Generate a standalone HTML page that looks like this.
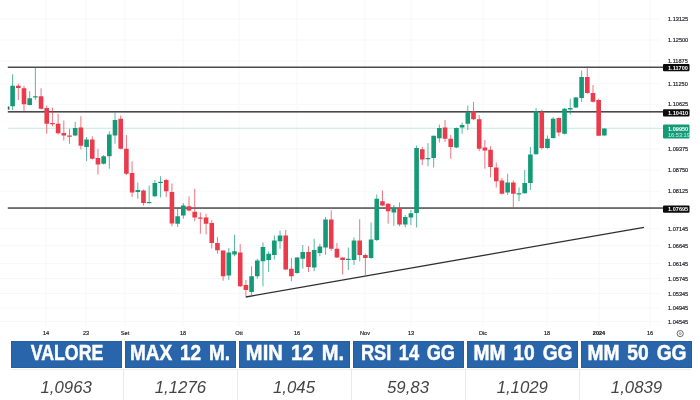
<!DOCTYPE html>
<html lang="it">
<head>
<meta charset="utf-8">
<title>EUR/USD</title>
<style>
html,body{margin:0;padding:0;background:#fff;}
body{width:700px;height:400px;overflow:hidden;position:relative;filter:blur(0.4px);font-family:"Liberation Sans",sans-serif;}
#chart{position:absolute;left:0;top:0;width:700px;height:340px;}
#chart svg{display:block;}
.ax{font-family:"Liberation Sans",sans-serif;font-size:5.6px;fill:#1e2026;stroke:#1e2026;stroke-width:0.18px;}
.axb{font-weight:bold;fill:#111;stroke:#111;}
.lb{font-family:"Liberation Sans",sans-serif;font-size:5.6px;fill:#fff;font-weight:bold;}
.hd{position:absolute;top:340.5px;height:27.5px;background:#2965ab;box-shadow:inset 0 0 0 0.6px #24589a;color:#fff;font-weight:bold;font-size:22.3px;line-height:27.5px;white-space:nowrap;overflow:hidden;}
.hd span{position:absolute;top:-1.3px;display:block;transform-origin:50% 50%;word-spacing:3px;-webkit-text-stroke:0.5px #fff;}
.vl{position:absolute;top:371px;height:29px;color:#444;font-style:italic;font-size:16.8px;line-height:33px;text-align:center;white-space:nowrap;}
.vsep{position:absolute;top:369px;width:1px;height:31px;background:#e9e9e9;}
.hline{position:absolute;left:10px;top:369px;width:681px;height:1px;background:#f0f0f0;}
</style>
</head>
<body>
<div id="chart">
<svg width="700" height="340" viewBox="0 0 700 340">
<g><rect x="0" y="18.5" width="660" height="1" fill="#f7f8fa"/>
<rect x="0" y="39.5" width="660" height="1" fill="#f7f8fa"/>
<rect x="0" y="60.5" width="660" height="1" fill="#f7f8fa"/>
<rect x="0" y="82.9" width="660" height="1" fill="#f7f8fa"/>
<rect x="0" y="103.8" width="660" height="1" fill="#f7f8fa"/>
<rect x="0" y="148.5" width="660" height="1" fill="#f7f8fa"/>
<rect x="0" y="169.5" width="660" height="1" fill="#f7f8fa"/>
<rect x="0" y="190.8" width="660" height="1" fill="#f7f8fa"/>
<rect x="0" y="228.2" width="660" height="1" fill="#f7f8fa"/>
<rect x="0" y="245.2" width="660" height="1" fill="#f7f8fa"/>
<rect x="0" y="263.1" width="660" height="1" fill="#f7f8fa"/>
<rect x="0" y="278.0" width="660" height="1" fill="#f7f8fa"/>
<rect x="0" y="292.9" width="660" height="1" fill="#f7f8fa"/>
<rect x="0" y="307.4" width="660" height="1" fill="#f7f8fa"/>
<rect x="0" y="321.0" width="660" height="1" fill="#f7f8fa"/>
<rect x="45.5" y="0" width="1" height="326" fill="#f7f8fa"/>
<rect x="85.5" y="0" width="1" height="326" fill="#f7f8fa"/>
<rect x="124.5" y="0" width="1" height="326" fill="#f7f8fa"/>
<rect x="182.5" y="0" width="1" height="326" fill="#f7f8fa"/>
<rect x="238.5" y="0" width="1" height="326" fill="#f7f8fa"/>
<rect x="296.5" y="0" width="1" height="326" fill="#f7f8fa"/>
<rect x="364.5" y="0" width="1" height="326" fill="#f7f8fa"/>
<rect x="410.5" y="0" width="1" height="326" fill="#f7f8fa"/>
<rect x="482.5" y="0" width="1" height="326" fill="#f7f8fa"/>
<rect x="546.5" y="0" width="1" height="326" fill="#f7f8fa"/>
<rect x="598.5" y="0" width="1" height="326" fill="#f7f8fa"/>
<rect x="649.5" y="0" width="1" height="326" fill="#f7f8fa"/></g>
<rect x="7.8" y="127.8" width="655" height="0.8" fill="#b4e4d7"/>
<g>
<rect x="7.8" y="66.5" width="655.5" height="1.5" fill="#4a4a4a"/>
<rect x="7.8" y="111" width="655.5" height="1.6" fill="#4a4a4a"/>
<rect x="7.8" y="207.3" width="655.5" height="1.5" fill="#4a4a4a"/>
<line x1="245.75" y1="297" x2="644" y2="227.3" stroke="#2f2f2f" stroke-width="1.3"/>
</g>
<g><rect x="7.8" y="106.5" width="1.6" height="3.2" fill="#1d6b55"/>
<rect x="12.10" y="74.25" width="1" height="35.75" fill="#149a76" opacity="0.7"/>
<rect x="10.30" y="85.75" width="4.6" height="20.50" fill="#149a76"/>
<rect x="17.79" y="83.75" width="1" height="16.25" fill="#ea3a4c" opacity="0.7"/>
<rect x="15.99" y="85.75" width="4.6" height="2.25" fill="#ea3a4c"/>
<rect x="23.48" y="85.75" width="1" height="25.50" fill="#ea3a4c" opacity="0.7"/>
<rect x="21.68" y="88.25" width="4.6" height="16.00" fill="#ea3a4c"/>
<rect x="29.17" y="91.25" width="1" height="14.25" fill="#149a76" opacity="0.7"/>
<rect x="27.37" y="98.25" width="4.6" height="6.75" fill="#149a76"/>
<rect x="34.86" y="67.50" width="1" height="32.50" fill="#149a76" opacity="0.7"/>
<rect x="33.06" y="96.25" width="4.6" height="1.25" fill="#149a76"/>
<rect x="40.55" y="88.25" width="1" height="21.25" fill="#ea3a4c" opacity="0.7"/>
<rect x="38.75" y="96.25" width="4.6" height="12.50" fill="#ea3a4c"/>
<rect x="46.24" y="105.50" width="1" height="28.25" fill="#ea3a4c" opacity="0.7"/>
<rect x="44.44" y="108.00" width="4.6" height="15.75" fill="#ea3a4c"/>
<rect x="51.93" y="107.50" width="1" height="18.75" fill="#ea3a4c" opacity="0.7"/>
<rect x="50.13" y="123.00" width="4.6" height="1.25" fill="#ea3a4c"/>
<rect x="57.62" y="113.75" width="1" height="20.75" fill="#ea3a4c" opacity="0.7"/>
<rect x="55.82" y="123.75" width="4.6" height="9.50" fill="#ea3a4c"/>
<rect x="63.31" y="120.50" width="1" height="20.00" fill="#ea3a4c" opacity="0.7"/>
<rect x="61.51" y="133.00" width="4.6" height="2.50" fill="#ea3a4c"/>
<rect x="69.00" y="128.75" width="1" height="15.00" fill="#ea3a4c" opacity="0.7"/>
<rect x="67.20" y="135.50" width="4.6" height="1.25" fill="#ea3a4c"/>
<rect x="74.69" y="121.75" width="1" height="14.50" fill="#149a76" opacity="0.7"/>
<rect x="72.89" y="128.00" width="4.6" height="7.50" fill="#149a76"/>
<rect x="80.38" y="116.25" width="1" height="33.25" fill="#ea3a4c" opacity="0.7"/>
<rect x="78.58" y="127.50" width="4.6" height="18.25" fill="#ea3a4c"/>
<rect x="86.07" y="137.00" width="1" height="24.25" fill="#149a76" opacity="0.7"/>
<rect x="84.27" y="139.50" width="4.6" height="7.50" fill="#149a76"/>
<rect x="91.76" y="136.25" width="1" height="23.25" fill="#ea3a4c" opacity="0.7"/>
<rect x="89.96" y="139.50" width="4.6" height="19.25" fill="#ea3a4c"/>
<rect x="97.45" y="148.75" width="1" height="25.75" fill="#ea3a4c" opacity="0.7"/>
<rect x="95.65" y="158.00" width="4.6" height="6.50" fill="#ea3a4c"/>
<rect x="103.14" y="155.00" width="1" height="9.50" fill="#149a76" opacity="0.7"/>
<rect x="101.34" y="156.25" width="4.6" height="7.50" fill="#149a76"/>
<rect x="108.83" y="131.25" width="1" height="37.50" fill="#149a76" opacity="0.7"/>
<rect x="107.03" y="134.50" width="4.6" height="21.75" fill="#149a76"/>
<rect x="114.52" y="112.50" width="1" height="31.25" fill="#149a76" opacity="0.7"/>
<rect x="112.72" y="120.00" width="4.6" height="15.50" fill="#149a76"/>
<rect x="120.21" y="115.50" width="1" height="34.00" fill="#ea3a4c" opacity="0.7"/>
<rect x="118.41" y="118.75" width="4.6" height="30.00" fill="#ea3a4c"/>
<rect x="125.90" y="135.00" width="1" height="40.00" fill="#ea3a4c" opacity="0.7"/>
<rect x="124.10" y="148.75" width="4.6" height="25.00" fill="#ea3a4c"/>
<rect x="131.59" y="161.25" width="1" height="35.75" fill="#ea3a4c" opacity="0.7"/>
<rect x="129.79" y="173.00" width="4.6" height="19.50" fill="#ea3a4c"/>
<rect x="137.28" y="182.50" width="1" height="16.25" fill="#149a76" opacity="0.7"/>
<rect x="135.48" y="190.00" width="4.6" height="2.00" fill="#149a76"/>
<rect x="142.97" y="189.50" width="1" height="16.00" fill="#ea3a4c" opacity="0.7"/>
<rect x="141.17" y="190.50" width="4.6" height="12.50" fill="#ea3a4c"/>
<rect x="148.66" y="185.50" width="1" height="17.75" fill="#149a76" opacity="0.7"/>
<rect x="146.86" y="202.00" width="4.6" height="1.20" fill="#149a76"/>
<rect x="154.35" y="180.00" width="1" height="17.00" fill="#149a76" opacity="0.7"/>
<rect x="152.55" y="183.00" width="4.6" height="13.25" fill="#149a76"/>
<rect x="160.04" y="176.25" width="1" height="21.25" fill="#149a76" opacity="0.7"/>
<rect x="158.24" y="181.75" width="4.6" height="1.25" fill="#149a76"/>
<rect x="165.73" y="178.75" width="1" height="18.25" fill="#ea3a4c" opacity="0.7"/>
<rect x="163.93" y="180.00" width="4.6" height="11.25" fill="#ea3a4c"/>
<rect x="171.42" y="183.50" width="1" height="42.75" fill="#ea3a4c" opacity="0.7"/>
<rect x="169.62" y="192.00" width="4.6" height="31.50" fill="#ea3a4c"/>
<rect x="177.11" y="207.50" width="1" height="19.50" fill="#149a76" opacity="0.7"/>
<rect x="175.31" y="216.25" width="4.6" height="7.50" fill="#149a76"/>
<rect x="182.80" y="203.00" width="1" height="15.75" fill="#149a76" opacity="0.7"/>
<rect x="181.00" y="205.50" width="4.6" height="10.00" fill="#149a76"/>
<rect x="188.49" y="196.25" width="1" height="15.00" fill="#ea3a4c" opacity="0.7"/>
<rect x="186.69" y="206.25" width="4.6" height="4.25" fill="#ea3a4c"/>
<rect x="194.18" y="188.75" width="1" height="32.50" fill="#ea3a4c" opacity="0.7"/>
<rect x="192.38" y="211.75" width="4.6" height="5.75" fill="#ea3a4c"/>
<rect x="199.87" y="212.50" width="1" height="21.25" fill="#ea3a4c" opacity="0.7"/>
<rect x="198.07" y="217.50" width="4.6" height="1.20" fill="#ea3a4c"/>
<rect x="205.56" y="213.75" width="1" height="20.75" fill="#ea3a4c" opacity="0.7"/>
<rect x="203.76" y="217.50" width="4.6" height="6.25" fill="#ea3a4c"/>
<rect x="211.25" y="220.00" width="1" height="28.50" fill="#ea3a4c" opacity="0.7"/>
<rect x="209.45" y="223.00" width="4.6" height="20.00" fill="#ea3a4c"/>
<rect x="216.94" y="237.00" width="1" height="16.75" fill="#ea3a4c" opacity="0.7"/>
<rect x="215.14" y="243.00" width="4.6" height="7.25" fill="#ea3a4c"/>
<rect x="222.63" y="250.50" width="1" height="30.25" fill="#ea3a4c" opacity="0.7"/>
<rect x="220.83" y="250.50" width="4.6" height="25.75" fill="#ea3a4c"/>
<rect x="228.32" y="248.00" width="1" height="32.00" fill="#149a76" opacity="0.7"/>
<rect x="226.52" y="252.50" width="4.6" height="23.00" fill="#149a76"/>
<rect x="234.01" y="234.75" width="1" height="21.50" fill="#149a76" opacity="0.7"/>
<rect x="232.21" y="251.25" width="4.6" height="3.25" fill="#149a76"/>
<rect x="239.70" y="244.25" width="1" height="42.75" fill="#ea3a4c" opacity="0.7"/>
<rect x="237.90" y="252.50" width="4.6" height="33.75" fill="#ea3a4c"/>
<rect x="245.39" y="280.00" width="1" height="16.25" fill="#ea3a4c" opacity="0.7"/>
<rect x="243.59" y="285.00" width="4.6" height="5.00" fill="#ea3a4c"/>
<rect x="251.08" y="266.25" width="1" height="28.75" fill="#149a76" opacity="0.7"/>
<rect x="249.28" y="276.25" width="4.6" height="15.75" fill="#149a76"/>
<rect x="256.77" y="258.75" width="1" height="20.00" fill="#149a76" opacity="0.7"/>
<rect x="254.97" y="260.50" width="4.6" height="15.75" fill="#149a76"/>
<rect x="262.46" y="242.50" width="1" height="43.75" fill="#149a76" opacity="0.7"/>
<rect x="260.66" y="247.00" width="4.6" height="14.25" fill="#149a76"/>
<rect x="268.15" y="251.25" width="1" height="20.75" fill="#149a76" opacity="0.7"/>
<rect x="266.35" y="253.75" width="4.6" height="6.25" fill="#149a76"/>
<rect x="273.84" y="235.50" width="1" height="24.00" fill="#149a76" opacity="0.7"/>
<rect x="272.04" y="240.50" width="4.6" height="14.50" fill="#149a76"/>
<rect x="279.53" y="230.50" width="1" height="18.25" fill="#149a76" opacity="0.7"/>
<rect x="277.73" y="235.50" width="4.6" height="5.75" fill="#149a76"/>
<rect x="285.22" y="230.00" width="1" height="40.00" fill="#ea3a4c" opacity="0.7"/>
<rect x="283.42" y="235.50" width="4.6" height="34.00" fill="#ea3a4c"/>
<rect x="290.91" y="258.00" width="1" height="23.25" fill="#ea3a4c" opacity="0.7"/>
<rect x="289.11" y="268.75" width="4.6" height="7.50" fill="#ea3a4c"/>
<rect x="296.60" y="257.00" width="1" height="16.75" fill="#149a76" opacity="0.7"/>
<rect x="294.80" y="257.50" width="4.6" height="15.50" fill="#149a76"/>
<rect x="302.29" y="245.00" width="1" height="23.75" fill="#149a76" opacity="0.7"/>
<rect x="300.49" y="252.00" width="4.6" height="6.75" fill="#149a76"/>
<rect x="307.98" y="246.25" width="1" height="25.75" fill="#ea3a4c" opacity="0.7"/>
<rect x="306.18" y="252.00" width="4.6" height="15.00" fill="#ea3a4c"/>
<rect x="313.67" y="238.75" width="1" height="32.50" fill="#149a76" opacity="0.7"/>
<rect x="311.87" y="250.00" width="4.6" height="17.50" fill="#149a76"/>
<rect x="319.36" y="243.75" width="1" height="12.50" fill="#149a76" opacity="0.7"/>
<rect x="317.56" y="246.50" width="4.6" height="6.50" fill="#149a76"/>
<rect x="325.05" y="217.00" width="1" height="37.75" fill="#149a76" opacity="0.7"/>
<rect x="323.25" y="219.50" width="4.6" height="28.00" fill="#149a76"/>
<rect x="330.74" y="210.25" width="1" height="40.75" fill="#ea3a4c" opacity="0.7"/>
<rect x="328.94" y="219.50" width="4.6" height="29.25" fill="#ea3a4c"/>
<rect x="336.43" y="243.00" width="1" height="15.00" fill="#ea3a4c" opacity="0.7"/>
<rect x="334.63" y="248.75" width="4.6" height="8.75" fill="#ea3a4c"/>
<rect x="342.12" y="257.50" width="1" height="17.00" fill="#ea3a4c" opacity="0.7"/>
<rect x="340.32" y="257.50" width="4.6" height="2.50" fill="#ea3a4c"/>
<rect x="347.81" y="247.50" width="1" height="22.50" fill="#149a76" opacity="0.7"/>
<rect x="346.01" y="258.75" width="4.6" height="1.25" fill="#149a76"/>
<rect x="353.50" y="237.50" width="1" height="27.50" fill="#149a76" opacity="0.7"/>
<rect x="351.70" y="240.50" width="4.6" height="19.50" fill="#149a76"/>
<rect x="359.19" y="219.25" width="1" height="42.00" fill="#ea3a4c" opacity="0.7"/>
<rect x="357.39" y="240.50" width="4.6" height="14.50" fill="#ea3a4c"/>
<rect x="364.88" y="253.75" width="1" height="21.25" fill="#ea3a4c" opacity="0.7"/>
<rect x="363.08" y="255.00" width="4.6" height="3.00" fill="#ea3a4c"/>
<rect x="370.57" y="222.50" width="1" height="36.25" fill="#149a76" opacity="0.7"/>
<rect x="368.77" y="239.50" width="4.6" height="18.50" fill="#149a76"/>
<rect x="376.26" y="194.50" width="1" height="46.75" fill="#149a76" opacity="0.7"/>
<rect x="374.46" y="198.75" width="4.6" height="41.25" fill="#149a76"/>
<rect x="381.95" y="190.50" width="1" height="15.75" fill="#ea3a4c" opacity="0.7"/>
<rect x="380.15" y="201.25" width="4.6" height="4.25" fill="#ea3a4c"/>
<rect x="387.64" y="203.00" width="1" height="20.75" fill="#ea3a4c" opacity="0.7"/>
<rect x="385.84" y="203.75" width="4.6" height="7.50" fill="#ea3a4c"/>
<rect x="393.33" y="205.00" width="1" height="20.75" fill="#149a76" opacity="0.7"/>
<rect x="391.53" y="208.25" width="4.6" height="4.25" fill="#149a76"/>
<rect x="399.02" y="202.50" width="1" height="23.75" fill="#ea3a4c" opacity="0.7"/>
<rect x="397.22" y="208.00" width="4.6" height="16.50" fill="#ea3a4c"/>
<rect x="404.71" y="215.00" width="1" height="12.50" fill="#149a76" opacity="0.7"/>
<rect x="402.91" y="217.00" width="4.6" height="7.50" fill="#149a76"/>
<rect x="410.40" y="210.00" width="1" height="15.00" fill="#149a76" opacity="0.7"/>
<rect x="408.60" y="213.25" width="4.6" height="4.25" fill="#149a76"/>
<rect x="416.09" y="145.50" width="1" height="82.00" fill="#149a76" opacity="0.7"/>
<rect x="414.29" y="148.00" width="4.6" height="65.00" fill="#149a76"/>
<rect x="421.78" y="147.00" width="1" height="18.00" fill="#ea3a4c" opacity="0.7"/>
<rect x="419.98" y="149.25" width="4.6" height="10.25" fill="#ea3a4c"/>
<rect x="427.47" y="143.25" width="1" height="23.00" fill="#149a76" opacity="0.7"/>
<rect x="425.67" y="158.00" width="4.6" height="1.25" fill="#149a76"/>
<rect x="433.16" y="135.75" width="1" height="31.75" fill="#149a76" opacity="0.7"/>
<rect x="431.36" y="135.75" width="4.6" height="22.25" fill="#149a76"/>
<rect x="438.85" y="124.50" width="1" height="18.00" fill="#149a76" opacity="0.7"/>
<rect x="437.05" y="128.00" width="4.6" height="10.25" fill="#149a76"/>
<rect x="444.54" y="120.00" width="1" height="22.00" fill="#ea3a4c" opacity="0.7"/>
<rect x="442.74" y="127.50" width="4.6" height="11.25" fill="#ea3a4c"/>
<rect x="450.23" y="135.00" width="1" height="23.75" fill="#ea3a4c" opacity="0.7"/>
<rect x="448.43" y="138.75" width="4.6" height="8.25" fill="#ea3a4c"/>
<rect x="455.92" y="127.50" width="1" height="20.50" fill="#149a76" opacity="0.7"/>
<rect x="454.12" y="128.00" width="4.6" height="19.50" fill="#149a76"/>
<rect x="461.61" y="122.50" width="1" height="11.25" fill="#149a76" opacity="0.7"/>
<rect x="459.81" y="125.00" width="4.6" height="2.50" fill="#149a76"/>
<rect x="467.30" y="105.50" width="1" height="24.50" fill="#149a76" opacity="0.7"/>
<rect x="465.50" y="111.75" width="4.6" height="12.00" fill="#149a76"/>
<rect x="472.99" y="102.00" width="1" height="18.00" fill="#ea3a4c" opacity="0.7"/>
<rect x="471.19" y="111.25" width="4.6" height="8.00" fill="#ea3a4c"/>
<rect x="478.68" y="115.00" width="1" height="36.25" fill="#ea3a4c" opacity="0.7"/>
<rect x="476.88" y="119.25" width="4.6" height="29.50" fill="#ea3a4c"/>
<rect x="484.37" y="140.00" width="1" height="28.75" fill="#ea3a4c" opacity="0.7"/>
<rect x="482.57" y="147.50" width="4.6" height="3.00" fill="#ea3a4c"/>
<rect x="490.06" y="146.25" width="1" height="31.25" fill="#ea3a4c" opacity="0.7"/>
<rect x="488.26" y="149.75" width="4.6" height="17.25" fill="#ea3a4c"/>
<rect x="495.75" y="162.50" width="1" height="25.00" fill="#ea3a4c" opacity="0.7"/>
<rect x="493.95" y="167.50" width="4.6" height="13.75" fill="#ea3a4c"/>
<rect x="501.44" y="178.00" width="1" height="16.50" fill="#ea3a4c" opacity="0.7"/>
<rect x="499.64" y="180.50" width="4.6" height="13.25" fill="#ea3a4c"/>
<rect x="507.13" y="173.75" width="1" height="21.25" fill="#149a76" opacity="0.7"/>
<rect x="505.33" y="182.50" width="4.6" height="10.00" fill="#149a76"/>
<rect x="512.82" y="180.50" width="1" height="27.50" fill="#ea3a4c" opacity="0.7"/>
<rect x="511.02" y="182.50" width="4.6" height="11.25" fill="#ea3a4c"/>
<rect x="518.51" y="187.50" width="1" height="13.75" fill="#149a76" opacity="0.7"/>
<rect x="516.71" y="193.25" width="4.6" height="1.25" fill="#149a76"/>
<rect x="524.20" y="170.00" width="1" height="23.75" fill="#149a76" opacity="0.7"/>
<rect x="522.40" y="183.00" width="4.6" height="10.25" fill="#149a76"/>
<rect x="529.89" y="147.00" width="1" height="43.00" fill="#149a76" opacity="0.7"/>
<rect x="528.09" y="154.50" width="4.6" height="28.50" fill="#149a76"/>
<rect x="535.58" y="108.00" width="1" height="46.50" fill="#149a76" opacity="0.7"/>
<rect x="533.78" y="111.25" width="4.6" height="43.00" fill="#149a76"/>
<rect x="541.27" y="109.50" width="1" height="40.00" fill="#ea3a4c" opacity="0.7"/>
<rect x="539.47" y="111.75" width="4.6" height="36.25" fill="#ea3a4c"/>
<rect x="546.96" y="135.50" width="1" height="13.25" fill="#149a76" opacity="0.7"/>
<rect x="545.16" y="138.75" width="4.6" height="9.25" fill="#149a76"/>
<rect x="552.65" y="117.00" width="1" height="21.75" fill="#149a76" opacity="0.7"/>
<rect x="550.85" y="118.75" width="4.6" height="19.25" fill="#149a76"/>
<rect x="558.34" y="117.50" width="1" height="18.75" fill="#ea3a4c" opacity="0.7"/>
<rect x="556.54" y="118.00" width="4.6" height="14.50" fill="#ea3a4c"/>
<rect x="564.03" y="108.00" width="1" height="26.50" fill="#149a76" opacity="0.7"/>
<rect x="562.23" y="108.75" width="4.6" height="25.00" fill="#149a76"/>
<rect x="569.72" y="98.75" width="1" height="15.75" fill="#149a76" opacity="0.7"/>
<rect x="567.92" y="108.00" width="4.6" height="1.50" fill="#149a76"/>
<rect x="575.41" y="97.00" width="1" height="11.00" fill="#149a76" opacity="0.7"/>
<rect x="573.61" y="97.50" width="4.6" height="10.00" fill="#149a76"/>
<rect x="581.10" y="70.50" width="1" height="31.50" fill="#149a76" opacity="0.7"/>
<rect x="579.30" y="77.00" width="4.6" height="21.00" fill="#149a76"/>
<rect x="586.79" y="66.25" width="1" height="27.50" fill="#ea3a4c" opacity="0.7"/>
<rect x="584.99" y="77.00" width="4.6" height="16.00" fill="#ea3a4c"/>
<rect x="592.48" y="85.00" width="1" height="17.50" fill="#ea3a4c" opacity="0.7"/>
<rect x="590.68" y="93.00" width="4.6" height="8.75" fill="#ea3a4c"/>
<rect x="598.17" y="98.75" width="1" height="37.00" fill="#ea3a4c" opacity="0.7"/>
<rect x="596.37" y="100.00" width="4.6" height="35.75" fill="#ea3a4c"/>
<rect x="603.86" y="128.50" width="1" height="7.00" fill="#149a76" opacity="0.7"/>
<rect x="602.06" y="128.50" width="4.6" height="7.00" fill="#149a76"/></g>
<g><text x="668" y="21.1" class="ax">1.13125</text>
<text x="668" y="42.1" class="ax">1.12500</text>
<text x="668" y="63.1" class="ax">1.11875</text>
<text x="668" y="85.5" class="ax">1.11250</text>
<text x="668" y="106.4" class="ax">1.10625</text>
<text x="668" y="151.1" class="ax">1.09375</text>
<text x="668" y="172.1" class="ax">1.08750</text>
<text x="668" y="193.4" class="ax">1.08125</text>
<text x="668" y="230.8" class="ax">1.07145</text>
<text x="668" y="247.8" class="ax">1.06645</text>
<text x="668" y="265.7" class="ax">1.06145</text>
<text x="668" y="280.6" class="ax">1.05745</text>
<text x="668" y="295.5" class="ax">1.05345</text>
<text x="668" y="310.0" class="ax">1.04945</text>
<text x="668" y="323.6" class="ax">1.04545</text></g>
<g><text x="46" y="335.4" text-anchor="middle" class="ax">14</text>
<text x="86" y="335.4" text-anchor="middle" class="ax">23</text>
<text x="125" y="335.4" text-anchor="middle" class="ax">Set</text>
<text x="183" y="335.4" text-anchor="middle" class="ax">18</text>
<text x="239" y="335.4" text-anchor="middle" class="ax">Ott</text>
<text x="297" y="335.4" text-anchor="middle" class="ax">16</text>
<text x="365" y="335.4" text-anchor="middle" class="ax">Nov</text>
<text x="411" y="335.4" text-anchor="middle" class="ax">13</text>
<text x="483" y="335.4" text-anchor="middle" class="ax">Dic</text>
<text x="547" y="335.4" text-anchor="middle" class="ax">18</text>
<text x="599" y="335.4" text-anchor="middle" class="ax axb">2024</text>
<text x="650" y="335.4" text-anchor="middle" class="ax">16</text></g>
<rect x="663" y="64" width="26.5" height="7.2" rx="1" fill="#0c0c0c"/>
<text x="668" y="69.8" class="lb">1.11700</text>
<rect x="663" y="109.3" width="26.5" height="7.2" rx="1" fill="#0c0c0c"/>
<text x="668" y="115.1" class="lb">1.10410</text>
<rect x="663" y="205.6" width="26.5" height="7.2" rx="1" fill="#0c0c0c"/>
<text x="668" y="211.3" class="lb">1.07695</text>
<rect x="663" y="124.6" width="26.5" height="13.8" rx="1" fill="#149a76"/>
<text x="668" y="130.6" class="lb">1.09950</text>
<text x="668" y="136.6" class="lb" style="font-weight:normal;fill:#d6f3ea">16:53:19</text>
<circle cx="680.2" cy="333.6" r="3.1" fill="none" stroke="#444" stroke-width="0.8"/>
<circle cx="680.2" cy="333.6" r="1" fill="none" stroke="#555" stroke-width="0.6"/>
</svg>
</div>
<div class="hline"></div>
<div class="hd" style="left:10.8px;width:111.5px"><span style="left:56.1px;transform:translateX(-50%) scaleX(0.797)">VALORE</span></div>
<div class="vl" style="left:6.2px;width:120px"><span>1,0963</span></div>
<div class="hd" style="left:125.1px;width:111.1px"><span style="left:54.6px;transform:translateX(-50%) scaleX(0.853)">MAX 12 M.</span></div>
<div class="vl" style="left:120.4px;width:120px"><span>1,1276</span></div>
<div class="hd" style="left:239.0px;width:111.1px"><span style="left:55.8px;transform:translateX(-50%) scaleX(0.903)">MIN 12 M.</span></div>
<div class="vl" style="left:234.0px;width:120px"><span>1,045</span></div>
<div class="hd" style="left:352.9px;width:111.1px"><span style="left:55.4px;transform:translateX(-50%) scaleX(0.818)">RSI 14 GG</span></div>
<div class="vl" style="left:348.0px;width:120px"><span>59,83</span></div>
<div class="hd" style="left:466.8px;width:111.1px"><span style="left:55.8px;transform:translateX(-50%) scaleX(0.862)">MM 10 GG</span></div>
<div class="vl" style="left:462.3px;width:120px"><span>1,1029</span></div>
<div class="hd" style="left:580.7px;width:111.1px"><span style="left:56.7px;transform:translateX(-50%) scaleX(0.862)">MM 50 GG</span></div>
<div class="vl" style="left:576.5px;width:120px"><span>1,0839</span></div>
<div class="vsep" style="left:123.2px"></div>
<div class="vsep" style="left:237.1px"></div>
<div class="vsep" style="left:351.0px"></div>
<div class="vsep" style="left:464.9px"></div>
<div class="vsep" style="left:578.8px"></div>
</body>
</html>
